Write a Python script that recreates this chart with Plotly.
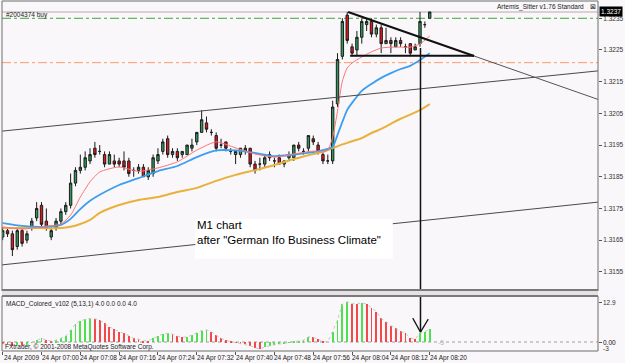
import pandas as pd
import plotly.graph_objects as go

# ---------------- data ----------------
START = "2009-04-24 06:52"
N_BARS = 89

opens = [1.3166,1.3168,1.3167,1.3163,1.3168,1.3165,1.3169,1.3172,1.3176,1.3171,
         1.3166,1.3169,1.3171,1.3174,1.3176,1.3183,1.3187,1.3188,1.3190,1.3194,
         1.3193,1.3192,1.3189,1.3190,1.3190,1.3190,1.3190,1.3187,1.3187,1.3188,
         1.3185,1.3186,1.3190,1.3193,1.3197,1.3192,1.3193,1.3192,1.3192,1.3194,
         1.3196,1.3199,1.3202,1.3199,1.3198,1.3195,1.3196,1.3193,1.3192,1.3192,
         1.3193,1.3194,1.3189,1.3189,1.3189,1.3192,1.3190,1.3191,1.3189,1.3191,
         1.3191,1.3195,1.3193,1.3194,1.3197,1.3195,1.3192,1.3190,1.3190,1.3208,
         1.3223,1.3236,1.3226,1.3225,1.3229,1.3233,1.3234,1.3230,1.3232,1.3227,
         1.3228,1.3226,1.3228,1.3226,1.3227,1.3225,1.3227,1.3233,1.3235]
highs = [1.3169,1.3169,1.3168,1.3169,1.3169,1.3168,1.3172,1.3177,1.3177,1.3175,
         1.3169,1.3172,1.3175,1.3177,1.3186,1.3188,1.3192,1.3193,1.3194,1.3196,
         1.3195,1.3193,1.3193,1.3192,1.3191,1.3193,1.3191,1.3188,1.3189,1.3189,
         1.3188,1.3192,1.3194,1.3197,1.3198,1.3194,1.3194,1.3193,1.3195,1.3197,
         1.3199,1.3206,1.3204,1.3200,1.3199,1.3197,1.3196,1.3194,1.3193,1.3194,
         1.3195,1.3194,1.3190,1.3191,1.3192,1.3193,1.3191,1.3192,1.3190,1.3193,
         1.3195,1.3196,1.3194,1.3198,1.3198,1.3196,1.3193,1.3192,1.3209,1.3224,
         1.3235,1.3237,1.3227,1.3231,1.3235,1.3235,1.3235,1.3233,1.3233,1.3232,
         1.3229,1.3229,1.3229,1.3227,1.3227,1.3227,1.3237,1.3234,1.3237]
lows = [1.3165,1.3166,1.3160,1.3162,1.3163,1.3164,1.3168,1.3171,1.3169,1.3168,
        1.3165,1.3168,1.3170,1.3173,1.3175,1.3182,1.3186,1.3187,1.3189,1.3191,
        1.3192,1.3188,1.3189,1.3188,1.3188,1.3187,1.3185,1.3185,1.3186,1.3185,
        1.3184,1.3185,1.3189,1.3192,1.3191,1.3191,1.3190,1.3191,1.3192,1.3193,
        1.3195,1.3199,1.3199,1.3198,1.3193,1.3194,1.3193,1.3192,1.3189,1.3191,
        1.3192,1.3188,1.3186,1.3187,1.3188,1.3190,1.3188,1.3189,1.3188,1.3190,
        1.3190,1.3193,1.3192,1.3193,1.3195,1.3192,1.3189,1.3189,1.3189,1.3207,
        1.3222,1.3227,1.3223,1.3223,1.3227,1.3231,1.3229,1.3229,1.3224,1.3227,
        1.3224,1.3226,1.3226,1.3224,1.3223,1.3225,1.3226,1.3232,1.3235]
closes = [1.3168,1.3167,1.3162,1.3168,1.3164,1.3167,1.3171,1.3175,1.3170,1.3169,
          1.3168,1.3171,1.3174,1.3176,1.3183,1.3187,1.3188,1.3191,1.3192,1.3192,
          1.3193,1.3189,1.3192,1.3189,1.3189,1.3188,1.3186,1.3187,1.3188,1.3185,
          1.3187,1.3191,1.3192,1.3196,1.3192,1.3193,1.3191,1.3193,1.3195,1.3195,
          1.3199,1.3203,1.3200,1.3199,1.3194,1.3195,1.3194,1.3193,1.3193,1.3194,
          1.3194,1.3189,1.3187,1.3189,1.3191,1.3191,1.3190,1.3189,1.3190,1.3192,
          1.3195,1.3194,1.3193,1.3198,1.3196,1.3193,1.3190,1.3190,1.3207,1.3222,
          1.3234,1.3228,1.3224,1.3229,1.3234,1.3234,1.3230,1.3232,1.3227,1.3228,
          1.3227,1.3228,1.3227,1.3226,1.3224,1.3226,1.3234,1.3233,1.3237]

# moving averages read at sample bars
ma_bars = [0,4,8,12,14,16,18,20,24,28,32,36,40,44,48,52,56,60,64,66,67,68,69,70,71,72,74,76,78,80,82,84,86,88]
ma_fast = [1.31692,1.31685,1.31692,1.31701,1.31729,1.31786,1.31834,1.31865,1.31881,1.31867,1.31878,1.31897,
           1.31934,1.31960,1.31941,1.31922,1.31912,1.31922,1.31931,1.31928,1.31934,1.31975,1.32057,1.32152,
           1.32193,1.32209,1.32228,1.32244,1.32256,1.32259,1.32259,1.32259,1.32269,1.32294]
ma_mid = [1.31704,1.31695,1.31692,1.31698,1.31717,1.31748,1.31774,1.31793,1.31824,1.31846,1.31868,1.31884,
          1.31912,1.31933,1.31933,1.31925,1.31915,1.31920,1.31928,1.31934,1.31938,1.31944,1.31982,1.32023,
          1.32061,1.32083,1.32121,1.32143,1.32162,1.32177,1.32190,1.32200,1.32218,1.32240]
ma_slow = [1.31688,1.31688,1.31688,1.31688,1.31692,1.31701,1.31714,1.31736,1.31761,1.31777,1.31786,1.31802,
           1.31815,1.31837,1.31856,1.31871,1.31887,1.31906,1.31922,1.31929,1.31934,1.31941,1.31946,1.31952,
           1.31957,1.31962,1.31972,1.31988,1.32001,1.32017,1.32033,1.32046,1.32060,1.32079]

macd = [-0.5,-0.8,-1.2,-1.0,-1.2,-1.0,-0.3,0.6,1.2,0.6,
        0.3,0.6,1.2,1.9,3.9,5.8,6.9,7.3,7.6,7.5,
        7.1,6.0,4.9,4.1,3.3,2.8,1.9,1.2,0.9,0.4,
        0.4,1.2,1.9,2.6,2.8,2.5,1.9,1.5,1.7,2.2,
        3.0,3.7,3.9,3.3,2.2,1.2,0.5,0.2,-0.2,-0.4,
        -0.7,-1.2,-1.8,-2.4,-1.6,-1.2,-0.9,-0.7,-0.4,-0.2,
        0.1,0.4,0.6,1.7,1.5,0.9,0.2,0.0,3.3,7.0,
        12.2,13.0,12.4,12.3,12.7,12.2,11.1,9.8,7.6,6.6,
        5.3,4.4,3.4,2.8,1.3,0.9,3.0,3.3,4.1]

price_ticks = [1.3155,1.3165,1.3175,1.3185,1.3195,1.3205,1.3215,1.3225,1.3235]
current_price = 1.3237
tp_level = 1.3235
open_level = 1.3221
x_tick_bars = [0,8,16,24,32,40,48,56,64,72,80,88]
x_tick_text = ["24 Apr 2009","24 Apr 07:00","24 Apr 07:08","24 Apr 07:16","24 Apr 07:24","24 Apr 07:32",
               "24 Apr 07:40","24 Apr 07:48","24 Apr 07:56","24 Apr 08:04","24 Apr 08:12","24 Apr 08:20"]

# drawn objects (bar index, price)
chan_upper = [(-0.14, 1.31994), (122.68, 1.32184)]
chan_lower = [(-0.14, 1.31572), (122.68, 1.31770)]
tri_top = [(71.18, 1.32370), (97.14, 1.32231)]
tri_ext = [(97.14, 1.32231), (122.68, 1.32094)]
tri_base = [(71.6, 1.32232), (97.14, 1.32232)]
vline_bar, vline_top, arrow_tip = 86.1, 1.32256, 3.2
arrow_left, arrow_right = (84.5, 7.7), (87.7, 7.4)
note_box = [(39.7, 1.31717), (80.4, 1.31591)]

# ---------------- helpers ----------------
t0 = pd.Timestamp(START)
times = pd.date_range(t0, periods=N_BARS, freq="min")

def T(b):
    return (t0 + pd.Timedelta(minutes=b)).strftime("%Y-%m-%d %H:%M:%S.%f")

W, H = 625, 363
ML, MR, MT, MB = 2, 22, 1, 12
PW, PH = W - ML - MR, H - MT - MB

def PX(px):
    return (px - ML) / PW

def PY(py):
    return (H - MB - py) / PH

main_dom = [PY(291), 1.0]
macd_dom = [0.0, PY(296)]
main_rng = [1.314896, 1.324045]
macd_rng = [-2.90, 14.84]
x_rng = [T(-0.14), T(122.68)]

def main_paper(p):
    return main_dom[0] + (p - main_rng[0]) / (main_rng[1] - main_rng[0]) * (main_dom[1] - main_dom[0])

def macd_paper(v):
    return macd_dom[0] + (v - macd_rng[0]) / (macd_rng[1] - macd_rng[0]) * (macd_dom[1] - macd_dom[0])

FONT = "Liberation Sans, Arial, sans-serif"
BG = "#f9f7f9"

fig = go.Figure()

fig.add_trace(go.Candlestick(
    x=times, open=opens, high=highs, low=lows, close=closes,
    increasing=dict(line=dict(color="#1c1c1c", width=1), fillcolor="#2e9a5a"),
    decreasing=dict(line=dict(color="#1c1c1c", width=1), fillcolor="#e8141c"),
    whiskerwidth=0, showlegend=False, hoverinfo="skip", xaxis="x", yaxis="y"))

ma_x = [times[b] for b in ma_bars]
for vals, col, w in [(ma_slow, "#e9b13a", 2), (ma_mid, "#3d9ef0", 1.8), (ma_fast, "#ff7474", 1)]:
    fig.add_trace(go.Scatter(x=ma_x, y=vals, mode="lines",
                             line=dict(color=col, width=w, shape="spline", smoothing=0.6),
                             showlegend=False, hoverinfo="skip", xaxis="x", yaxis="y"))

bar_cols = ["#4ee04e" if (i > 0 and v > macd[i - 1]) else "#f24a4a" for i, v in enumerate(macd)]
fig.add_trace(go.Bar(x=times, y=macd, marker=dict(color=bar_cols, line=dict(width=0)),
                     width=11000, showlegend=False, hoverinfo="skip", xaxis="x2", yaxis="y2"))
fig.add_trace(go.Scatter(x=times, y=macd, mode="lines",
                         line=dict(color="#c8c8c8", width=1, dash="dot"),
                         showlegend=False, hoverinfo="skip", xaxis="x2", yaxis="y2"))

shapes = []
def seg(p0, p1, color, width, dash="solid", yref="y"):
    shapes.append(dict(type="line", xref="x", yref=yref, x0=T(p0[0]), y0=p0[1], x1=T(p1[0]), y1=p1[1],
                       line=dict(color=color, width=width, dash=dash), layer="above"))

# horizontal levels
shapes.append(dict(type="line", xref="paper", yref="y", x0=0, x1=1, y0=current_price, y1=current_price,
                   line=dict(color="#d9d1d1", width=2), layer="below"))
shapes.append(dict(type="line", xref="paper", yref="y", x0=0, x1=1, y0=tp_level, y1=tp_level,
                   line=dict(color="#3aa83a", width=1, dash="dashdot"), layer="below"))
shapes.append(dict(type="line", xref="paper", yref="y", x0=0, x1=1, y0=open_level, y1=open_level,
                   line=dict(color="#ff9a6a", width=1, dash="dashdot"), layer="below"))
shapes.append(dict(type="line", xref="paper", yref="y2", x0=0, x1=1, y0=0, y1=0,
                   line=dict(color="#a0a0a0", width=1, dash="dot"), layer="below"))

seg(*chan_upper, "#4a4a4a", 1)
seg(*chan_lower, "#4a4a4a", 1)
seg(*tri_ext, "#555555", 1)
seg(*tri_top, "#111111", 2)
seg(*tri_base, "#111111", 2)

# note box hides the lower channel line
shapes.append(dict(type="rect", xref="x", yref="y", x0=T(note_box[0][0]), x1=T(note_box[1][0]),
                   y0=note_box[0][1], y1=note_box[1][1], fillcolor="#ffffff", line=dict(width=0), layer="above"))

# vertical line + arrow
shapes.append(dict(type="line", xref="x", yref="paper", x0=T(vline_bar), x1=T(vline_bar),
                   y0=macd_paper(arrow_tip), y1=main_paper(vline_top), line=dict(color="#111111", width=1.5), layer="above"))
seg(arrow_left, (vline_bar, arrow_tip), "#111111", 1.2, yref="y2")
seg(arrow_right, (vline_bar, arrow_tip), "#111111", 1.2, yref="y2")

# pane frames and separator
for dom in (main_dom, macd_dom):
    shapes.append(dict(type="rect", xref="paper", yref="paper", x0=0, x1=1, y0=dom[0], y1=dom[1],
                       line=dict(color="#6e6e6e", width=1), fillcolor="rgba(0,0,0,0)", layer="above"))
shapes.append(dict(type="rect", xref="paper", yref="paper", x0=0, x1=1, y0=PY(295.5), y1=PY(290.5),
                   fillcolor="#e4e2e4", line=dict(width=0), layer="above"))
shapes.append(dict(type="line", xref="paper", yref="paper", x0=0, x1=1, y0=PY(290), y1=PY(290),
                   line=dict(color="#7a7a7a", width=2), layer="above"))
shapes.append(dict(type="line", xref="paper", yref="paper", x0=0, x1=1, y0=PY(296), y1=PY(296),
                   line=dict(color="#7a7a7a", width=2), layer="above"))

ann = []
def txt(x, y, s, size=6.5, color="#1a1a1a", xanchor="left", xref="paper", yref="paper", **kw):
    ann.append(dict(x=x, y=y, xref=xref, yref=yref, text=s, showarrow=False, xanchor=xanchor,
                    yanchor="middle", font=dict(family=FONT, size=size, color=color), **kw))

txt(PX(4), PY(15), "#2004374 buy")
txt(PX(591), PY(7), "Artemis_Sitter v1.76 Standard", xanchor="right")
txt(PX(593), PY(7), "⊠", size=7)
txt(PX(4), PY(304), "MACD_Colored_v102 (5,13,1) 4.0 0.0 0.0 4.0")
txt(PX(3), PY(347), "FXtrader, © 2001-2008 MetaQuotes Software Corp.")
txt(T(89.3), 0, "-5", color="#b8b8b8", xref="x", yref="y2", size=7)
txt(T(note_box[0][0]), PY(224.5), "M1 chart", size=11.5, color="#000000", xref="x")
txt(T(note_box[0][0]), PY(239.5), "after \"German Ifo Business Climate\"", size=11.5, color="#000000", xref="x")

# current price box
ann.append(dict(x=1, y=current_price, xref="paper", yref="y", text="1.3237", showarrow=False,
                xanchor="left", yanchor="middle", xshift=1, bgcolor="#000000", borderpad=1,
                font=dict(family=FONT, size=6.5, color="#ffffff")))
# macd axis labels
txt(PX(606), PY(302), "12.9", color="#333333")
txt(PX(606), PY(342), "0.00", color="#111111")
txt(PX(606), PY(348), "-3", color="#333333")

# x tick labels
for b, s in zip(x_tick_bars, x_tick_text):
    ann.append(dict(x=T(b), y=0, xref="x", yref="paper", text=s, showarrow=False, xanchor="left",
                    yanchor="top", xshift=-2 if b else -1, yshift=-1,
                    font=dict(family=FONT, size=6.5, color="#1a1a1a")))

fig.update_layout(
    width=W, height=H, margin=dict(l=ML, r=MR, t=MT, b=MB),
    paper_bgcolor=BG, plot_bgcolor=BG, showlegend=False, bargap=0,
    xaxis=dict(domain=[0, 1], range=x_rng, type="date", anchor="y", showticklabels=False,
               showgrid=False, zeroline=False, rangeslider=dict(visible=False), showline=False),
    yaxis=dict(domain=main_dom, range=main_rng, side="right", anchor="x", tickvals=price_ticks,
               ticktext=[f"{v:.4f}" for v in price_ticks], ticks="outside", ticklen=3, tickcolor="#555",
               tickfont=dict(family=FONT, size=6.5, color="#333333"), showgrid=False, zeroline=False),
    xaxis2=dict(domain=[0, 1], matches="x", type="date", anchor="y2", tickvals=[times[b] for b in x_tick_bars],
                showticklabels=False, ticks="outside", ticklen=3, tickcolor="#555", showgrid=False, zeroline=False),
    yaxis2=dict(domain=macd_dom, range=macd_rng, side="right", anchor="x2", tickvals=[12.9, 0],
                ticks="outside", ticklen=3, tickcolor="#555", showticklabels=False,
                showgrid=False, zeroline=False),
    shapes=shapes, annotations=ann,
)

fig.write_html("out.html")
